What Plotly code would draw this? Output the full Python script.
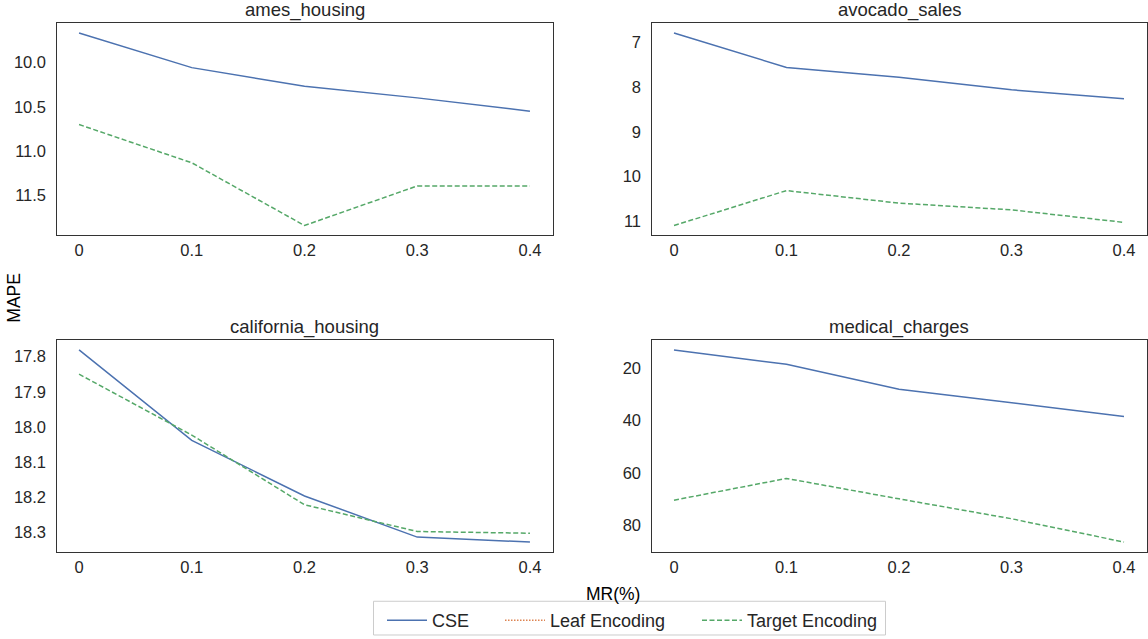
import plotly.graph_objects as go

mr = [0.0, 0.1, 0.2, 0.3, 0.4]
mr_labels = ["0", "0.1", "0.2", "0.3", "0.4"]
datasets = ["ames_housing", "avocado_sales", "california_housing", "medical_charges"]

cse_ames = [9.67, 10.06, 10.27, 10.40, 10.55]
te_ames = [10.70, 11.13, 11.835, 11.39, 11.39]
cse_avocado = [6.79, 7.56, 7.78, 8.06, 8.26]
te_avocado = [11.09, 10.31, 10.59, 10.74, 11.02]
cse_california = [17.781, 18.038, 18.196, 18.313, 18.327]
te_california = [17.850, 18.023, 18.221, 18.297, 18.302]
cse_medical = [13.0, 18.5, 28.0, 33.1, 38.4]
te_medical = [70.4, 62.1, 69.9, 77.5, 86.4]
leaf_none = [None, None, None, None, None]

cse_all = [cse_ames, cse_avocado, cse_california, cse_medical]
te_all = [te_ames, te_avocado, te_california, te_medical]
ytick_vals = [
    [10.0, 10.5, 11.0, 11.5],
    [7, 8, 9, 10, 11],
    [17.8, 17.9, 18.0, 18.1, 18.2, 18.3],
    [20, 40, 60, 80],
]
ytick_fmt = [".1f", "d", ".1f", "d"]

W, H = 1148, 639
BLUE, ORANGE, GREEN = "#4C72B0", "#DD8452", "#55A868"
TXT = "#262626"
FONT = "Liberation Sans, Arial, sans-serif"

xdom = [[56.5 / W, 552.5 / W], [651.5 / W, 1146.5 / W]]
ydom = [[1 - 237 / H, 1 - 23.5 / H], [1 - 556 / H, 1 - 343 / H]]

fig = go.Figure()
layout = dict(
    width=W, height=H, margin=dict(l=0, r=0, t=0, b=0),
    paper_bgcolor="white", plot_bgcolor="white",
    font=dict(family=FONT, color=TXT, size=16),
    annotations=[], shapes=[],
)

for i in range(4):
    r, c = divmod(i, 2)
    ax = "" if i == 0 else str(i + 1)
    xa, ya = "x" + ax, "y" + ax
    show = i == 0
    fig.add_trace(go.Scatter(x=mr, y=cse_all[i], mode="lines", name="CSE",
                             line=dict(color=BLUE, width=1.5), xaxis=xa, yaxis=ya,
                             showlegend=show, legendgroup="cse", legend="legend"))
    fig.add_trace(go.Scatter(x=mr, y=leaf_none, mode="lines", name="Leaf Encoding",
                             line=dict(color=ORANGE, width=1.5, dash="1.5px,1.5px"), xaxis=xa, yaxis=ya,
                             showlegend=show, legendgroup="leaf", legend="legend2"))
    fig.add_trace(go.Scatter(x=mr, y=te_all[i], mode="lines", name="Target Encoding",
                             line=dict(color=GREEN, width=1.5, dash="5px,2.5px"), xaxis=xa, yaxis=ya,
                             showlegend=show, legendgroup="te", legend="legend3"))
    vals = cse_all[i] + te_all[i]
    lo, hi = min(vals), max(vals)
    pad = 0.05 * (hi - lo)
    common = dict(showgrid=False, zeroline=False, showline=True, mirror=True,
                  linecolor="#333333", linewidth=1.3, ticks="",
                  tickfont=dict(size=16.5, color=TXT, family=FONT))
    layout["xaxis" + ax] = dict(domain=xdom[c], anchor=ya, range=[-0.02, 0.42],
                                tickvals=mr, ticktext=mr_labels, ticklabelstandoff=0, **common)
    layout["yaxis" + ax] = dict(domain=ydom[r], anchor=xa, range=[hi + pad, lo - pad],
                                tickvals=ytick_vals[i], tickformat=ytick_fmt[i],
                                ticklabelstandoff=6, **common)
    layout["annotations"].append(dict(
        text=datasets[i], x=(xdom[c][0] + xdom[c][1]) / 2, y=ydom[r][1],
        xref="paper", yref="paper", xanchor="center", yanchor="bottom", yshift=0,
        showarrow=False, font=dict(size=18.5, color=TXT, family=FONT)))

layout["annotations"].append(dict(text="MR(%)", x=613 / W, y=1 - 599 / H, xref="paper", yref="paper",
                                  xanchor="center", yanchor="middle", showarrow=False,
                                  font=dict(size=17.5, color="#000000", family=FONT)))
layout["annotations"].append(dict(text="MAPE", x=14 / W, y=1 - 300 / H, xref="paper", yref="paper",
                                  xanchor="center", yanchor="middle", showarrow=False, textangle=-90,
                                  font=dict(size=17.5, color="#000000", family=FONT)))

# legend frame spanning the three legend entries
layout["shapes"].append(dict(type="rect", xref="paper", yref="paper",
                             x0=373.5 / W, x1=885.5 / W, y0=1 - 640 / H, y1=1 - 606 / H,
                             line=dict(color="#cccccc", width=1), fillcolor="white", layer="below"))

leg_common = dict(orientation="h", y=1 - 607 / H, xanchor="left", yanchor="top",
                  bgcolor="rgba(0,0,0,0)", borderwidth=0,
                  font=dict(size=18, color=TXT, family=FONT), itemwidth=40)
layout["legend"] = dict(x=382 / W, **leg_common)
layout["legend2"] = dict(x=500 / W, **leg_common)
layout["legend3"] = dict(x=697 / W, **leg_common)
fig.update_layout(**layout)
fig.write_html("out.html")
